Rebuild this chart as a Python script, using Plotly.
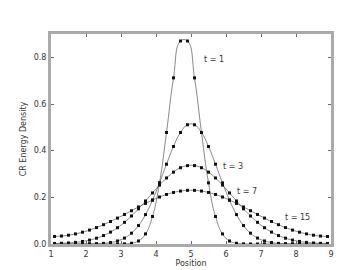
import plotly.graph_objects as go

position = [1.1, 1.3, 1.5, 1.7, 1.9, 2.1, 2.3, 2.5, 2.7, 2.9,
            3.1, 3.3, 3.5, 3.7, 3.9, 4.1, 4.3, 4.5, 4.7, 4.9,
            5.1, 5.3, 5.5, 5.7, 5.9, 6.1, 6.3, 6.5, 6.7, 6.9,
            7.1, 7.3, 7.5, 7.7, 7.9, 8.1, 8.3, 8.5, 8.7, 8.9]

density_t1 = [0, 0, 0, 0, 0, 0, 0, 0, 0, 0.0001,
              0.0007, 0.0032, 0.0130, 0.0433, 0.118, 0.262, 0.478, 0.712, 0.870, 0.870,
              0.712, 0.478, 0.262, 0.118, 0.0433, 0.0130, 0.0032, 0.0007, 0.0001, 0,
              0, 0, 0, 0, 0, 0, 0, 0, 0, 0]

density_t3 = [0, 0, 0, 0.0001, 0.0002, 0.0005, 0.0012, 0.0028, 0.0063, 0.0131,
              0.0254, 0.0464, 0.079, 0.126, 0.188, 0.262, 0.342, 0.418, 0.478, 0.511,
              0.511, 0.478, 0.418, 0.342, 0.262, 0.188, 0.126, 0.079, 0.0464, 0.0254,
              0.0131, 0.0063, 0.0028, 0.0012, 0.0005, 0.0002, 0.0001, 0, 0, 0]

density_t7 = [0.0023, 0.0030, 0.0044, 0.0070, 0.0110, 0.0167, 0.0250, 0.0362, 0.0510, 0.0698,
              0.0929, 0.1201, 0.1510, 0.1844, 0.2189, 0.2525, 0.283, 0.308, 0.327, 0.336,
              0.336, 0.327, 0.308, 0.283, 0.2525, 0.2189, 0.1844, 0.1510, 0.1201, 0.0929,
              0.0698, 0.0510, 0.0362, 0.0250, 0.0167, 0.0110, 0.0070, 0.0044, 0.0030, 0.0023]

density_t15 = [0.0323, 0.0341, 0.0378, 0.0433, 0.0506, 0.0597, 0.0704, 0.0828, 0.0964, 0.1111,
               0.1267, 0.1426, 0.1586, 0.1740, 0.1883, 0.2013, 0.2123, 0.2209, 0.2269, 0.2299,
               0.2299, 0.2269, 0.2209, 0.2123, 0.2013, 0.1883, 0.1740, 0.1586, 0.1426, 0.1267,
               0.1111, 0.0964, 0.0828, 0.0704, 0.0597, 0.0506, 0.0433, 0.0378, 0.0341, 0.0323]

series = [("t = 1", density_t1), ("t = 3", density_t3),
          ("t = 7", density_t7), ("t = 15", density_t15)]

label_text = ["t = 1", "t = 3", "t = 7", "t = 15"]
label_x = [5.31, 5.85, 6.25, 7.63]
label_y = [0.792, 0.333, 0.224, 0.113]

fig = go.Figure()
for name, vals in series:
    fig.add_trace(go.Scatter(
        x=position, y=vals, mode="lines+markers", name=name,
        line=dict(color="#555555", width=0.7, shape="spline", smoothing=1.3),
        marker=dict(color="#111111", size=3, symbol="square"),
        showlegend=False, cliponaxis=False))

for t, x, y in zip(label_text, label_x, label_y):
    fig.add_annotation(x=x, y=y, text=t, showarrow=False, xanchor="left",
                       yanchor="middle", font=dict(size=8, color="#333333"))

axis_common = dict(showline=True, linecolor="#aaaaaa", linewidth=3, mirror="ticks",
                   ticks="inside", ticklen=3, tickwidth=1, tickcolor="#666666",
                   showgrid=False, zeroline=False,
                   tickfont=dict(size=8, color="#333333", family="DejaVu Sans"))

fig.update_xaxes(range=[1, 9], tickvals=[1, 2, 3, 4, 5, 6, 7, 8, 9],
                 title=dict(text="Position", standoff=2,
                            font=dict(size=8, color="#333333", family="DejaVu Sans")),
                 **axis_common)
fig.update_yaxes(range=[0, 0.9], tickvals=[0, 0.2, 0.4, 0.6, 0.8], tickformat=".1f",
                 title=dict(text="CR Energy Density", standoff=6,
                            font=dict(size=8, color="#333333", family="DejaVu Sans")),
                 **axis_common)

fig.update_layout(width=360, height=270, margin=dict(l=43, r=37, t=26, b=29),
                  plot_bgcolor="white", paper_bgcolor="white",
                  font=dict(family="DejaVu Sans", size=8, color="#333333"))

fig.write_html("out.html")
